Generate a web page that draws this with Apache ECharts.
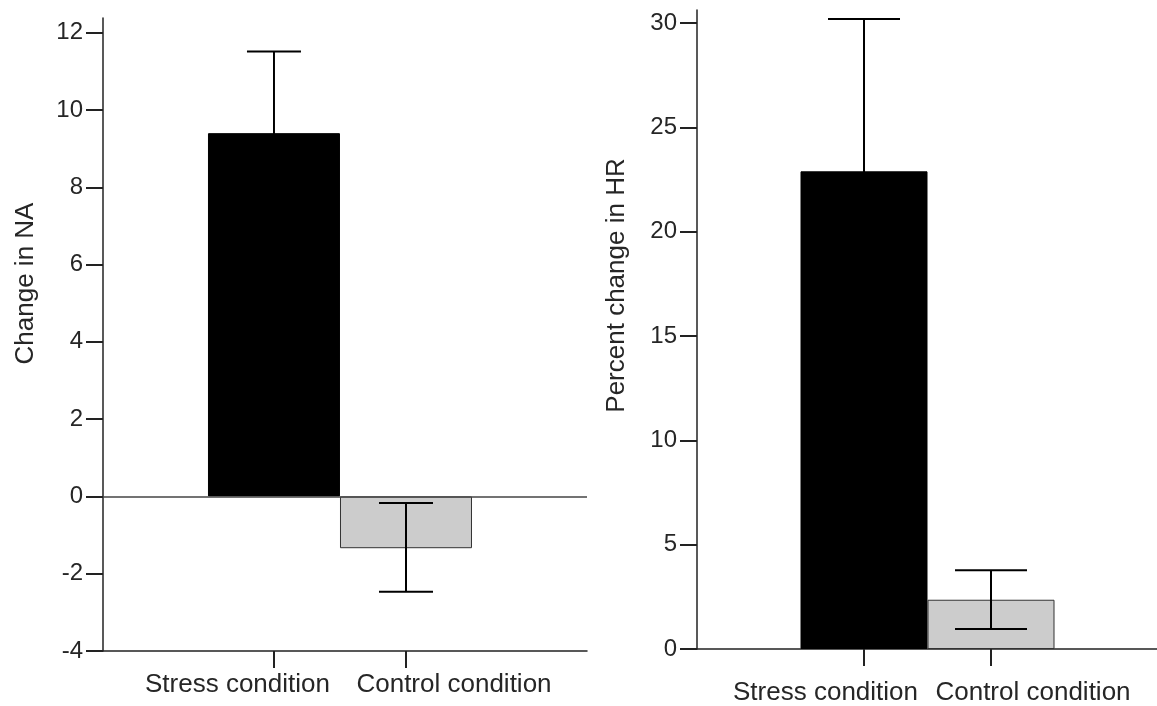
<!DOCTYPE html>
<html><head><meta charset="utf-8">
<script src="https://cdn.jsdelivr.net/npm/echarts@6/dist/echarts.min.js"></script>
<style>html,body{margin:0;padding:0;background:#fff}#c{width:1157px;height:706px}</style>
</head><body><div id="c"></div>
<script>
const categories = ['Stress condition', 'Control condition'];
const naMean = [9.40, -1.34];
const naLow = [7.30, -2.47];
const naHigh = [11.51, -0.17];
const hrMean = [22.89, 2.36];
const hrLow = [15.6, 0.96];
const hrHigh = [30.19, 3.77];
const naTicks = [-4, -2, 0, 2, 4, 6, 8, 10, 12];
const hrTicks = [0, 5, 10, 15, 20, 25, 30];

const FONT = "'Liberation Sans', Arial, sans-serif";
const TXT = '#262626';
const barColors = ['#000000', '#cccccc'];
const barBorders = ['#000000', '#333333'];
const positions = categories.map((_, i) => i);

function xAxisCfg(gridIndex, min, max, margin, pads) {
  return {
    type: 'value', gridIndex, min, max,
    axisLine: { show: true, onZero: false, lineStyle: { color: '#222', width: 1.5 } },
    axisTick: { show: true, length: 17, customValues: positions, lineStyle: { color: '#222', width: 2 } },
    axisLabel: {
      customValues: positions, margin,
      formatter: v => '{c' + Math.round(v) + '|' + categories[Math.round(v)] + '}',
      rich: {
        c0: { fontSize: 26, fontFamily: FONT, color: TXT, padding: pads[0] },
        c1: { fontSize: 26, fontFamily: FONT, color: TXT, padding: pads[1] }
      }
    },
    splitLine: { show: false }
  };
}
function yAxisCfg(gridIndex, min, max, ticks, name, gap, shift) {
  return {
    type: 'value', gridIndex, min, max,
    axisLine: { show: true, onZero: false, lineStyle: { color: '#222', width: 1.5 } },
    axisTick: { show: true, length: 17, customValues: ticks, lineStyle: { color: '#222', width: 2 } },
    axisLabel: { customValues: ticks, margin: 20, fontSize: 24, fontFamily: FONT, color: TXT },
    splitLine: { show: false },
    name, nameLocation: 'middle', nameRotate: 90, nameGap: gap,
    nameTextStyle: { fontSize: 26, fontFamily: FONT, color: TXT, padding: [0, 0, 0, shift] }
  };
}
function barSeries(idx, means, width, zeroLine) {
  const s = {
    type: 'bar', xAxisIndex: idx, yAxisIndex: idx, barWidth: width,
    data: positions.map(i => ({ value: [i, means[i]], itemStyle: { color: barColors[i], borderColor: barBorders[i], borderWidth: 1 } })),
    z: 2
  };
  if (zeroLine) {
    s.markLine = { silent: true, symbol: 'none', label: { show: false },
      lineStyle: { color: '#444', width: 1.5, type: 'solid' }, data: [{ yAxis: 0 }] };
  }
  return s;
}
function errSeries(idx, lows, highs, hw) {
  return {
    type: 'custom', xAxisIndex: idx, yAxisIndex: idx, z: 5,
    encode: { x: 0, y: [1, 2] },
    data: positions.map(i => [i, lows[i], highs[i]]),
    renderItem: (params, api) => {
      const x = api.value(0);
      const lo = api.coord([x, api.value(1)]);
      const hi = api.coord([x, api.value(2)]);
      const style = { stroke: '#000', lineWidth: 2 };
      return { type: 'group', children: [
        { type: 'line', shape: { x1: lo[0], y1: lo[1], x2: hi[0], y2: hi[1] }, style },
        { type: 'line', shape: { x1: lo[0] - hw, y1: lo[1], x2: lo[0] + hw, y2: lo[1] }, style },
        { type: 'line', shape: { x1: hi[0] - hw, y1: hi[1], x2: hi[0] + hw, y2: hi[1] }, style }
      ] };
    }
  };
}

const chart = echarts.init(document.getElementById('c'), null, { renderer: 'canvas' });
chart.setOption({
  animation: false,
  backgroundColor: '#fff',
  grid: [
    { left: 103, top: 18, width: 484, height: 633 },
    { left: 697, top: 10, width: 460, height: 641 }
  ],
  xAxis: [
    xAxisCfg(0, -1.295, 2.371, 21, [[0, 73, 0, 0], [0, 0, 0, 96]]),
    xAxisCfg(1, -1.315, 2.307, 31, [[0, 77, 0, 0], [0, 0, 0, 84]])
  ],
  yAxis: [
    yAxisCfg(0, -4, 12.38, naTicks, 'Change in NA', 64, 102),
    yAxisCfg(1, 0, 30.62, hrTicks, 'Percent change in HR', 67, 88)
  ],
  series: [
    barSeries(0, naMean, 132, true),
    errSeries(0, naLow, naHigh, 27),
    barSeries(1, hrMean, 127, false),
    errSeries(1, hrLow, hrHigh, 36)
  ]
});
</script></body></html>
